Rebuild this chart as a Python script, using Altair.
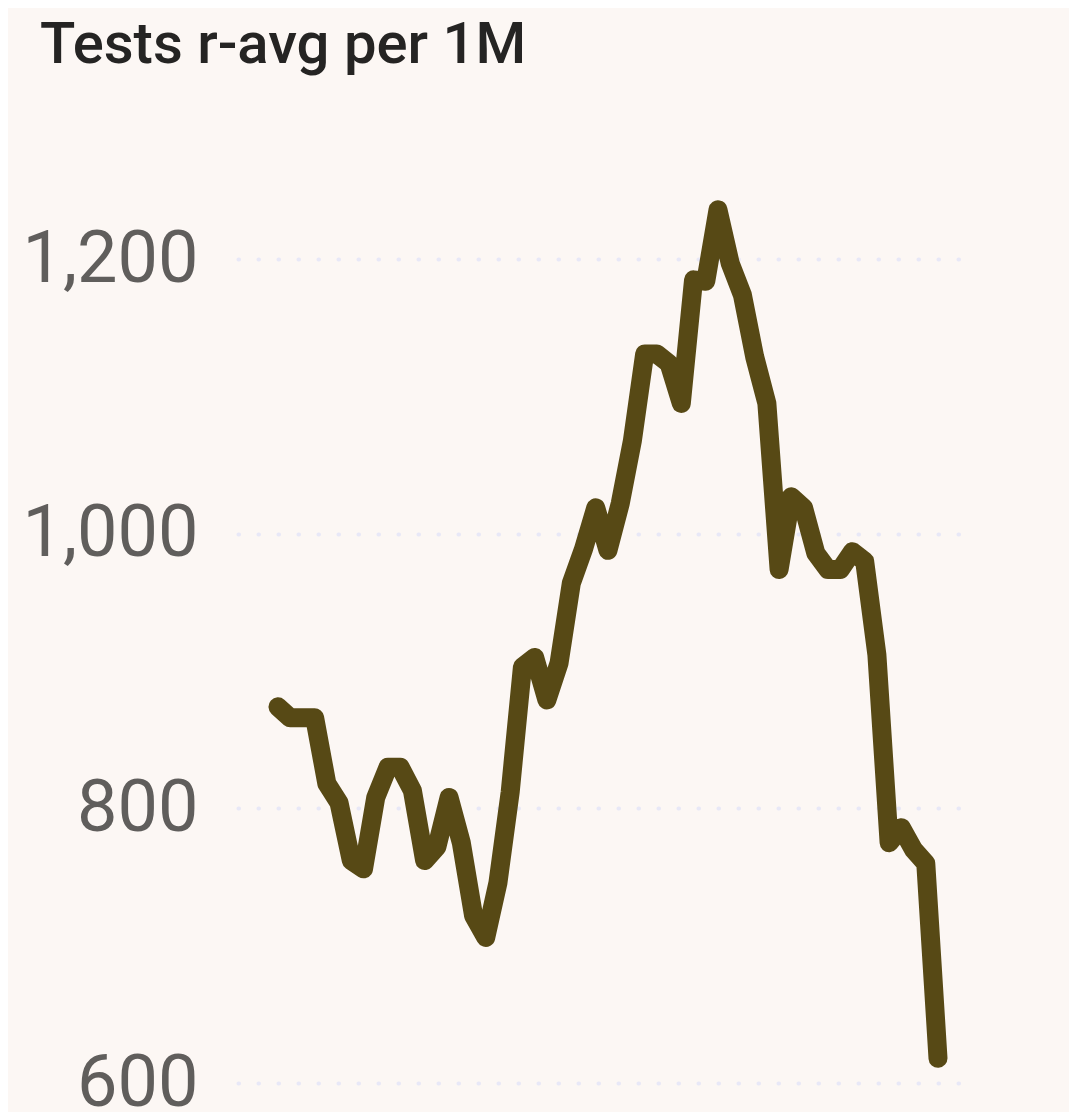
import altair as alt
import pandas as pd

# Rolling-average tests per 1M, one value per day
values = [874, 866, 866, 866, 818, 804, 762, 756, 808, 830,
          830, 813, 762, 772, 808, 775, 722, 706, 746, 812,
          903, 910, 879, 906, 964, 989, 1019, 988, 1022, 1068,
          1131, 1131, 1124, 1095, 1185, 1184, 1236, 1197, 1174, 1129,
          1095, 974, 1027, 1019, 986, 974, 974, 987, 980, 912,
          775, 786, 770, 760, 618]
days = list(range(len(values)))
y_ticks = [600, 800, 1000, 1200]

df = pd.DataFrame({"day": days, "tests": values})

chart = alt.Chart(df).mark_line(
    color="#574915", strokeWidth=19, strokeCap="round", strokeJoin="round"
).encode(
    x=alt.X("day:Q", axis=None,
            scale=alt.Scale(domain=[-3.27, 55.8], nice=False, zero=False)),
    y=alt.Y("tests:Q",
            scale=alt.Scale(domain=[600, 1300], nice=False, zero=False),
            axis=alt.Axis(values=y_ticks, format=",.0f", title=None, domain=False,
                          ticks=False, labelPadding=40, labelFontSize=72,
                          labelLimit=400,
                          labelFont="Roboto", labelColor="#605e5c",
                          gridColor="#e8e8f7", gridWidth=4,
                          gridDash=[0.5, 19.5], gridCap="round")),
).properties(
    width=722, height=961,
    background="#fcf7f4",
    padding={"left": 230, "top": 114, "right": 109, "bottom": 34},
    autosize=alt.AutoSizeParams(type="none"),
    title=alt.TitleParams("Tests r-avg per 1M", anchor="start", frame="group",
                          dx=-198, dy=-43, fontSize=58, font="Roboto",
                          color="#252423", fontWeight=500),
).configure_view(stroke=None)

chart.save("out.html", embed_options={"renderer": "svg", "actions": False})
